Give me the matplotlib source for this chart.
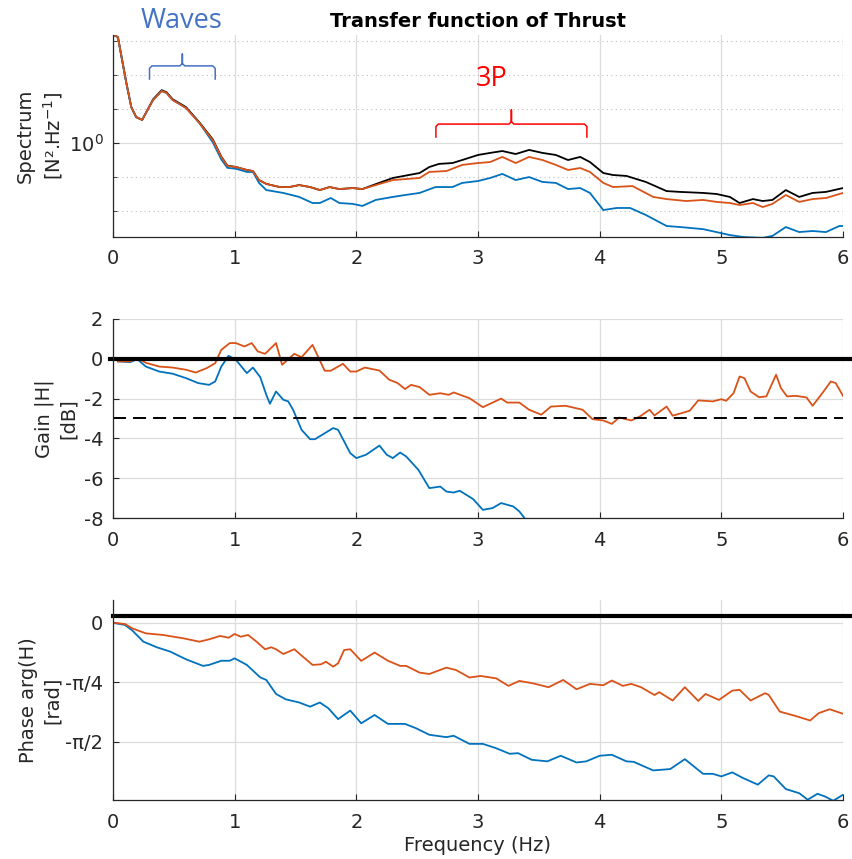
import numpy as np
import matplotlib
matplotlib.use('Agg')
import matplotlib.pyplot as plt
from matplotlib import ticker
from matplotlib import transforms


# Spectrum (N^2/Hz)
specFreqBlack = [0.00, 0.04, 0.11, 0.15, 0.19, 0.24, 0.27, 0.33, 0.40, 0.44, 0.49, 0.60, 0.71, 0.82, 0.89,
                 0.94, 1.01, 1.10, 1.15, 1.20, 1.26, 1.37, 1.45, 1.53, 1.62, 1.70, 1.78, 1.86, 1.97, 2.05,
                 2.16, 2.30, 2.52, 2.60, 2.68, 2.79, 2.87, 3.00, 3.10, 3.20, 3.31, 3.42, 3.53, 3.64, 3.74,
                 3.84, 3.92, 4.03, 4.11, 4.22, 4.38, 4.55, 4.66, 4.85, 4.96, 5.07, 5.15, 5.26, 5.34, 5.42,
                 5.53, 5.64, 5.75, 5.86, 6.00]
specBlack = [2.08, 2.05, 1.50, 1.276, 1.192, 1.169, 1.225, 1.345, 1.43, 1.41, 1.345, 1.275, 1.15, 1.025, 0.912,
             0.858, 0.850, 0.833, 0.827, 0.778, 0.758, 0.742, 0.742, 0.752, 0.742, 0.727, 0.742, 0.732, 0.737, 0.732,
             0.757, 0.789, 0.816, 0.850, 0.868, 0.873, 0.891, 0.922, 0.935, 0.947, 0.928, 0.954, 0.935, 0.922, 0.891,
             0.910, 0.879, 0.816, 0.805, 0.800, 0.768, 0.722, 0.718, 0.713, 0.708, 0.694, 0.666, 0.684, 0.675, 0.680,
             0.727, 0.694, 0.713, 0.718, 0.737]

specFreqOrange = [0.00, 0.04, 0.11, 0.15, 0.19, 0.24, 0.27, 0.33, 0.40, 0.44, 0.49, 0.60, 0.71, 0.82, 0.89,
                  0.94, 1.01, 1.10, 1.15, 1.20, 1.26, 1.37, 1.45, 1.53, 1.62, 1.70, 1.78, 1.86, 1.97, 2.05,
                  2.16, 2.30, 2.52, 2.60, 2.74, 2.87, 3.00, 3.10, 3.20, 3.31, 3.42, 3.53, 3.64, 3.74, 3.84,
                  3.92, 4.03, 4.11, 4.27, 4.44, 4.55, 4.71, 4.85, 4.96, 5.07, 5.15, 5.26, 5.34, 5.42, 5.53,
                  5.64, 5.75, 5.86, 6.00]
specOrange = [2.08, 2.05, 1.50, 1.276, 1.192, 1.169, 1.225, 1.338, 1.422, 1.403, 1.338, 1.268, 1.145, 1.020, 0.910,
              0.856, 0.850, 0.833, 0.827, 0.778, 0.758, 0.742, 0.742, 0.752, 0.742, 0.727, 0.742, 0.732, 0.737, 0.732,
              0.752, 0.778, 0.789, 0.822, 0.827, 0.862, 0.873, 0.879, 0.910, 0.873, 0.910, 0.891, 0.862, 0.833, 0.844,
              0.822, 0.763, 0.742, 0.747, 0.694, 0.684, 0.675, 0.680, 0.671, 0.666, 0.657, 0.666, 0.648, 0.662, 0.703,
              0.671, 0.684, 0.689, 0.713]

specFreqBlue = [0.00, 0.04, 0.11, 0.15, 0.19, 0.24, 0.27, 0.33, 0.40, 0.44, 0.49, 0.60, 0.71,
                0.82, 0.89, 0.94, 1.01, 1.10, 1.15, 1.20, 1.26, 1.40, 1.53, 1.64, 1.70, 1.79, 1.86, 1.97,
                2.05, 2.16, 2.30, 2.40, 2.52, 2.65, 2.79, 2.87, 3.00, 3.10, 3.20, 3.31, 3.42, 3.53, 3.64,
                3.74, 3.84, 3.92, 4.03, 4.14, 4.25, 4.38, 4.55, 4.66, 4.85, 4.96, 5.07, 5.18, 5.34, 5.42,
                5.53, 5.64, 5.75, 5.86, 5.97, 6.00]
specBlue = [2.08, 2.05, 1.50, 1.276, 1.192, 1.169, 1.225, 1.338, 1.422, 1.403, 1.338, 1.268, 1.145,
            1.005, 0.895, 0.845, 0.840, 0.822, 0.822, 0.763, 0.727, 0.713, 0.694, 0.666, 0.666, 0.689, 0.666, 0.662,
            0.653, 0.680, 0.694, 0.703, 0.713, 0.742, 0.742, 0.763, 0.773, 0.789, 0.811, 0.778, 0.794, 0.768, 0.763,
            0.732, 0.737, 0.713, 0.635, 0.644, 0.644, 0.614, 0.570, 0.566, 0.558, 0.547, 0.536, 0.529, 0.526, 0.533,
            0.566, 0.547, 0.551, 0.547, 0.570, 0.570]

# Gain |H| (dB)
gainFreqOrange = [0.04, 0.14, 0.20, 0.27, 0.38, 0.49, 0.60, 0.68, 0.77, 0.84, 0.89, 0.96, 1.01, 1.08, 1.14,
                  1.19, 1.25, 1.34, 1.39, 1.49, 1.55, 1.64, 1.74, 1.79, 1.89, 1.95, 2.00, 2.07, 2.19, 2.27,
                  2.34, 2.40, 2.45, 2.52, 2.60, 2.69, 2.76, 2.80, 2.93, 3.04, 3.19, 3.24, 3.34, 3.42, 3.52,
                  3.60, 3.72, 3.86, 3.94, 4.03, 4.10, 4.16, 4.26, 4.33, 4.41, 4.45, 4.55, 4.60, 4.74, 4.81,
                  4.93, 5.00, 5.04, 5.10, 5.15, 5.19, 5.24, 5.31, 5.37, 5.45, 5.49, 5.54, 5.61, 5.70, 5.75,
                  5.82, 5.90, 5.94, 6.00]
gainOrange = [-0.13, -0.13, 0.03, -0.2, -0.39, -0.44, -0.55, -0.69, -0.47, -0.22, 0.45, 0.79, 0.79, 0.62, 0.79,
              0.37, 0.25, 0.79, -0.3, 0.25, 0.08, 0.70, -0.6, -0.6, -0.25, -0.64, -0.64, -0.44, -0.59, -1.05,
              -1.22, -1.52, -1.31, -1.42, -1.81, -1.73, -1.81, -1.69, -1.98, -2.43, -2.0, -2.2, -2.2, -2.56, -2.81,
              -2.4, -2.36, -2.56, -3.03, -3.1, -3.27, -2.95, -3.1, -2.9, -2.56, -2.85, -2.4, -2.86, -2.61, -2.09,
              -2.14, -2.03, -2.11, -1.73, -0.89, -0.97, -1.64, -1.93, -1.89, -0.8, -1.47, -1.89, -1.86, -1.94, -2.36,
              -1.81, -1.14, -1.22, -1.86]

gainFreqBlue = [0.04, 0.14, 0.20, 0.27, 0.38, 0.49, 0.60, 0.70, 0.79, 0.84, 0.89, 0.95, 1.01, 1.10, 1.15,
                1.21, 1.26, 1.29, 1.34, 1.40, 1.44, 1.48, 1.55, 1.62, 1.66, 1.74, 1.81, 1.85, 1.95, 2.00,
                2.08, 2.19, 2.25, 2.30, 2.36, 2.41, 2.51, 2.60, 2.69, 2.74, 2.80, 2.85, 2.96, 3.04, 3.12,
                3.19, 3.29, 3.34, 3.42]
gainBlue = [-0.13, -0.17, -0.02, -0.39, -0.64, -0.75, -0.97, -1.22, -1.31, -1.14, -0.39, 0.15, -0.05, -0.72, -0.44,
            -0.92, -1.81, -2.26, -1.64, -2.06, -2.14, -2.56, -3.57, -4.04, -4.04, -3.74, -3.48, -3.57, -4.74, -4.99,
            -4.82, -4.36, -4.82, -4.99, -4.71, -4.91, -5.58, -6.5, -6.42, -6.67, -6.72, -6.63, -7.05, -7.59, -7.5,
            -7.25, -7.42, -7.67, -8.3]

# Phase arg(H) (rad)
phaseFreqOrange = [0.00, 0.10, 0.16, 0.27, 0.41, 0.58, 0.71, 0.79, 0.88, 0.95, 1.00, 1.05, 1.11, 1.18, 1.25,
                   1.30, 1.34, 1.40, 1.49, 1.56, 1.64, 1.71, 1.75, 1.81, 1.85, 1.90, 1.95, 2.04, 2.15, 2.26,
                   2.36, 2.41, 2.52, 2.60, 2.74, 2.82, 2.93, 3.02, 3.15, 3.25, 3.34, 3.45, 3.58, 3.70, 3.81,
                   3.92, 4.03, 4.10, 4.19, 4.26, 4.34, 4.45, 4.49, 4.60, 4.70, 4.81, 4.87, 4.98, 5.09, 5.15,
                   5.24, 5.36, 5.39, 5.48, 5.61, 5.73, 5.80, 5.89, 6.00]
phaseOrange = [0.0, -0.018, -0.076, -0.141, -0.162, -0.207, -0.251, -0.220, -0.175, -0.199, -0.149, -0.186, -0.162,
               -0.251, -0.351, -0.325, -0.351, -0.414, -0.351, -0.448, -0.558, -0.550, -0.516, -0.581, -0.537,
               -0.361, -0.351, -0.505, -0.395, -0.503, -0.571, -0.571, -0.660, -0.678, -0.594, -0.626, -0.725,
               -0.704, -0.736, -0.835, -0.770, -0.801, -0.853, -0.757, -0.880, -0.809, -0.827, -0.764, -0.835,
               -0.809, -0.853, -0.956, -0.919, -1.029, -0.853, -1.034, -0.942, -1.021, -0.898, -0.887, -1.029,
               -0.932, -0.956, -1.175, -1.233, -1.293, -1.196, -1.144, -1.204]

phaseFreqBlue = [0.00, 0.10, 0.16, 0.25, 0.36, 0.47, 0.60, 0.74, 0.79, 0.89, 0.96, 1.00, 1.10, 1.21, 1.26,
                 1.34, 1.42, 1.53, 1.62, 1.70, 1.77, 1.85, 1.95, 2.04, 2.15, 2.26, 2.40, 2.49, 2.60, 2.74,
                 2.80, 2.93, 3.04, 3.15, 3.26, 3.33, 3.44, 3.57, 3.68, 3.81, 3.89, 4.00, 4.10, 4.22, 4.28,
                 4.44, 4.58, 4.70, 4.85, 4.93, 5.00, 5.09, 5.18, 5.30, 5.39, 5.43, 5.53, 5.64, 5.71, 5.79,
                 5.85, 5.92, 6.00]
phaseBlue = [0.0, -0.031, -0.105, -0.251, -0.325, -0.382, -0.484, -0.571, -0.558, -0.503, -0.503, -0.471, -0.558,
             -0.723, -0.757, -0.942, -1.013, -1.055, -1.110, -1.055, -1.131, -1.275, -1.162, -1.330, -1.220,
             -1.338, -1.338, -1.395, -1.482, -1.513, -1.495, -1.602, -1.602, -1.660, -1.733, -1.725, -1.812,
             -1.833, -1.759, -1.848, -1.833, -1.759, -1.746, -1.833, -1.840, -1.953, -1.935, -1.804, -1.998,
             -1.998, -2.032, -1.979, -2.055, -2.141, -2.018, -2.032, -2.199, -2.254, -2.340, -2.262, -2.296,
             -2.354, -2.275]

gainRef = 0.0
gainCut = -3.0
phaseRef = 0.088

xTickValues = [0, 1, 2, 3, 4, 5, 6]
phaseTickValues = [-np.pi / 2, -np.pi / 4, 0]
phaseTickLabels = ['-\u03c0/2', '-\u03c0/4', '0']


def styleAxis(ax, fontSize):
  gridColor = '#dcdcdc'
  axColor = '#262626'
  for side in ['top', 'right']:
    ax.spines[side].set_visible(False)
  for side in ['left', 'bottom']:
    ax.spines[side].set_color(axColor)
    ax.spines[side].set_linewidth(0.9)
  ax.tick_params(axis = 'both', which = 'both', direction = 'in', colors = axColor, labelsize = fontSize,
                 top = False, right = False)
  ax.tick_params(axis = 'both', which = 'major', length = 4)
  ax.tick_params(axis = 'both', which = 'minor', length = 3)
  ax.tick_params(axis = 'x', pad = 9)
  ax.tick_params(axis = 'y', pad = 7)
  ax.grid(True, which = 'major', color = gridColor, linewidth = 0.9)
  ax.set_axisbelow(True)
  ax.set_xlim(0, 6)
  ax.set_xticks(xTickValues)


def drawBrace(ax, x0, x1, yEnd, yLine, yTip, color):
  # x in data, y in axes fraction
  trans = transforms.blended_transform_factory(ax.transData, ax.transAxes)
  xc = (x0 + x1) / 2.0
  d = 0.02
  xs = [x0, x0, x0 + d, xc - d, xc, xc, xc, xc + d, x1 - d, x1, x1]
  ys = [yEnd, yLine - 0.012, yLine, yLine, yLine + 0.012, yTip, yLine + 0.012, yLine, yLine, yLine - 0.012, yEnd]
  ax.plot(xs, ys, color = color, linewidth = 1.1, transform = trans, clip_on = False)


def plot():
  fontSize = 14
  plt.rcParams['font.family'] = ['DejaVu Sans']
  plt.rcParams['text.color'] = '#262626'
  plt.rcParams['axes.labelcolor'] = '#262626'
  plt.rcParams['axes.unicode_minus'] = False

  colBlue = '#0072bd'
  colOrange = '#d95319'
  lw = 1.3

  W, H = 853.0, 859.0
  fig = plt.figure(figsize = (W / 100, H / 100), dpi = 100)
  left = 113 / W
  width = 730 / W
  ax1 = fig.add_axes([left, 1 - 237 / H, width, 202 / H])
  ax2 = fig.add_axes([left, 1 - 518 / H, width, 199 / H])
  ax3 = fig.add_axes([left, 1 - 800 / H, width, 200 / H])

  # Spectrum
  styleAxis(ax1, fontSize)
  ax1.set_yscale('log')
  ax1.plot(specFreqBlack, specBlack, color = 'black', linewidth = lw)
  ax1.plot(specFreqBlue, specBlue, color = colBlue, linewidth = lw)
  ax1.plot(specFreqOrange, specOrange, color = colOrange, linewidth = lw)
  ax1.set_ylim(10 ** -0.2765, 10 ** 0.3176)
  ax1.yaxis.set_major_locator(ticker.FixedLocator([1.0]))
  ax1.yaxis.set_major_formatter(ticker.LogFormatterMathtext())
  ax1.yaxis.set_minor_locator(ticker.FixedLocator([10 ** k for k in [-0.3, -0.2, -0.1, 0.1, 0.2, 0.3]]))
  ax1.yaxis.set_minor_formatter(ticker.NullFormatter())
  ax1.grid(True, which = 'minor', axis = 'y', color = '#bebebe', linestyle = (0, (1, 3)), linewidth = 0.8)
  ax1.set_ylabel('Spectrum\n[N\u00b2.Hz$^{-1}$]', fontsize = fontSize, linespacing = 1.3)
  ax1.yaxis.set_label_coords(-0.066, 0.5)
  ax1.set_title('Transfer function of Thrust', fontsize = fontSize, fontweight = 'bold', color = 'black', pad = 6)

  # Annotations
  drawBrace(ax1, 0.30, 0.84, 0.782, 0.847, 0.906, '#4472c4')
  drawBrace(ax1, 2.654, 3.895, 0.495, 0.559, 0.629, '#ff0000')
  ax1.text(0.56, 1.07, 'Waves', color = '#4472c4', fontsize = 19.5, family = 'Open Sans',
           ha = 'center', va = 'center', transform = transforms.blended_transform_factory(ax1.transData, ax1.transAxes))
  ax1.text(3.11, 0.78, '3P', color = '#ff0000', fontsize = 19.5, family = 'Open Sans',
           ha = 'center', va = 'center', transform = transforms.blended_transform_factory(ax1.transData, ax1.transAxes))

  # Gain
  styleAxis(ax2, fontSize)
  ax2.plot(gainFreqBlue, gainBlue, color = colBlue, linewidth = lw)
  ax2.plot(gainFreqOrange, gainOrange, color = colOrange, linewidth = lw)
  ax2.axhline(gainRef, xmin = -0.004, xmax = 1.03, color = 'black', linewidth = 3.0, clip_on = False)
  ax2.axhline(gainCut, color = 'black', linewidth = 1.4, linestyle = (0, (6.7, 3.6)))
  ax2.set_ylim(-8, 2)
  ax2.set_yticks(range(-8, 3, 2))
  ax2.set_ylabel('Gain |H|\n[dB]', fontsize = fontSize, linespacing = 1.3)
  ax2.yaxis.set_label_coords(-0.048, 0.5)

  # Phase
  styleAxis(ax3, fontSize)
  ax3.plot(phaseFreqBlue, phaseBlue, color = colBlue, linewidth = lw)
  ax3.plot(phaseFreqOrange, phaseOrange, color = colOrange, linewidth = lw)
  ax3.axhline(phaseRef, xmin = 0, xmax = 1.03, color = 'black', linewidth = 3.0, clip_on = False)
  ax3.set_ylim(-2.344, 0.30)
  ax3.set_yticks(phaseTickValues)
  ax3.set_yticklabels(phaseTickLabels)
  ax3.set_ylabel('Phase arg(H)\n[rad]', fontsize = fontSize, linespacing = 1.3)
  ax3.yaxis.set_label_coords(-0.070, 0.5)
  ax3.set_xlabel('Frequency (Hz)', fontsize = fontSize, labelpad = 3)

  plt.savefig('out.png', dpi = 100)


plot()
